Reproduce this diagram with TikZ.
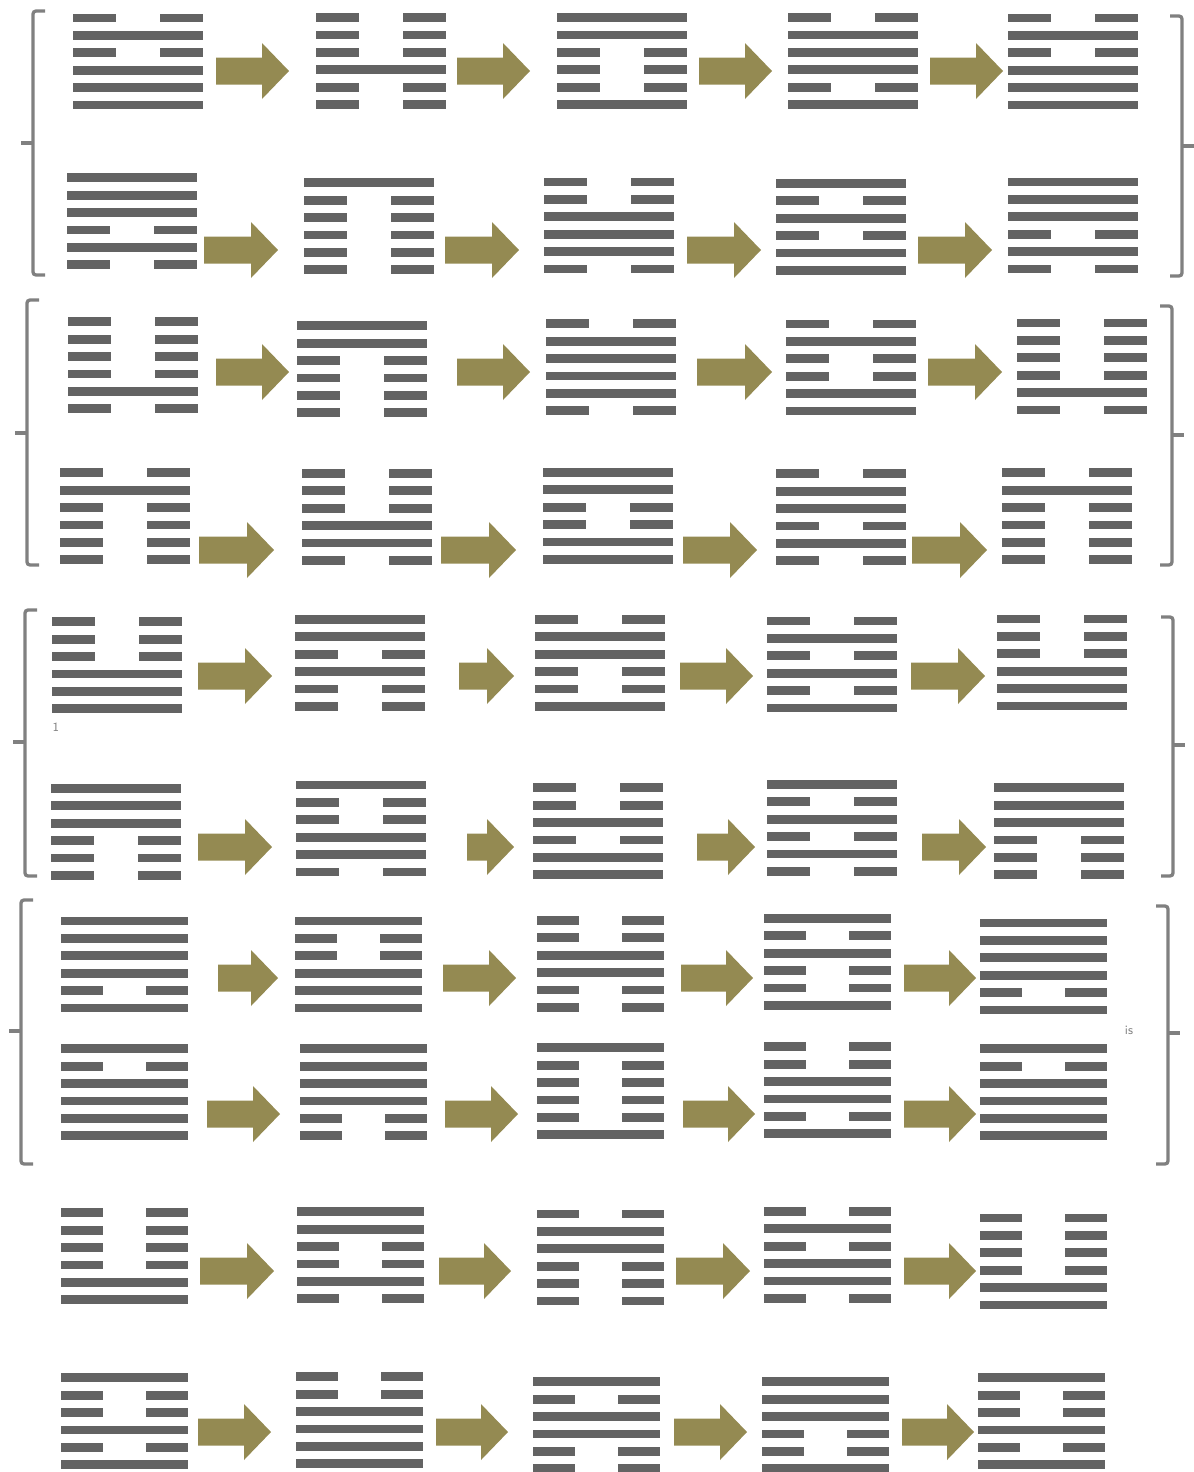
\documentclass[tikz,border=0pt]{standalone}
\usepackage{tikz}
\usetikzlibrary{positioning}
\definecolor{yaogray}{RGB}{99,99,99}
\definecolor{arrolive}{RGB}{148,138,82}
\definecolor{brakgray}{RGB}{128,128,128}
\def\hw{130}
% one line of a hexagram: x, y, 1 solid / 0 broken
\newcommand{\yao}[3]{%
  \ifnum#3=1\relax
    \fill[bar] (#1,#2-4.4) rectangle ++(\hw,8.8);
  \else
    \fill[bar] (#1,#2-4.4) rectangle ++(\hw/3,8.8);
    \fill[bar] (#1+\hw*2/3,#2-4.4) rectangle ++(\hw/3,8.8);
  \fi}
% hexagram: x, y of top line, six lines from top to bottom
\newcommand{\hexa}[8]{%
  \yao{#1}{#2}{#3}
  \yao{#1}{#2+17.4}{#4}
  \yao{#1}{#2+34.8}{#5}
  \yao{#1}{#2+52.2}{#6}
  \yao{#1}{#2+69.6}{#7}
  \yao{#1}{#2+87}{#8}}
\newcommand{\barrow}[3]{%
  \fill[arr] (#1,#3-13.5) -- (#2-27,#3-13.5) -- (#2-27,#3-28) -- (#2,#3)
    -- (#2-27,#3+28) -- (#2-27,#3+13.5) -- (#1,#3+13.5) -- cycle;}
\newcommand{\grpleft}[4]{%
  \draw[brak] (#1+12,#2) -- (#1,#2) -- (#1,#3) -- (#1+12,#3);
  \draw[brak] (#1,#4) -- (#1-12,#4);}
\newcommand{\grpright}[4]{%
  \draw[brak] (#1-12,#2) -- (#1,#2) -- (#1,#3) -- (#1-12,#3);
  \draw[brak] (#1,#4) -- (#1+12,#4);}
\tikzset{
  bar/.style={fill=yaogray},
  arr/.style={fill=arrolive},
  brak/.style={draw=brakgray, line width=3.3*0.25mm, rounded corners=3*0.25mm},
  scan/.style={font=\fontsize{9}{9}\selectfont\sffamily, text=brakgray, inner sep=0pt},
}

\begin{document}
\begin{tikzpicture}[x=0.25mm,y=-0.25mm]
\useasboundingbox (0,0) rectangle (1193,1472);
% group 1
\hexa{73}{18}010111   \barrow{216}{289}{71}
\hexa{316}{17.5}000100 \barrow{457}{530}{71}
\hexa{557}{17.5}110001 \barrow{699}{772}{71}
\hexa{788}{17.5}011101 \barrow{930}{1003}{71}
\hexa{1008}{18}010111
\hexa{67}{177.7}111010  \barrow{204}{278}{250}
\hexa{304}{182.7}100000 \barrow{445}{519}{250}
\hexa{544}{182}001110   \barrow{687}{761}{250}
\hexa{776}{183.3}101011 \barrow{918}{992}{250}
\hexa{1008}{182}111010
\grpleft{33}{11}{275}{143}
\grpright{1182}{16}{276}{146}
% group 2
\hexa{68}{321.7}000010  \barrow{216}{289}{372}
\hexa{297}{325.7}110000 \barrow{457}{530}{372}
\hexa{546}{323.7}011110 \barrow{697}{772}{372}
\hexa{786}{324}010011   \barrow{928}{1002}{372}
\hexa{1017}{323}000010
\hexa{60}{472.7}010000  \barrow{199}{274}{550}
\hexa{302}{473.3}000110 \barrow{441}{516}{550}
\hexa{543}{472.3}110011 \barrow{683}{757}{550}
\hexa{776}{473.7}011010 \barrow{912}{987}{550}
\hexa{1002}{472.7}010000
\grpleft{27}{300}{565}{433}
\grpright{1172}{306}{565}{435}
% group 3
\hexa{52}{621.7}000111  \barrow{198}{272}{676}
\hexa{295}{619.3}110100 \barrow{459}{514}{676}
\hexa{535}{619.3}011001 \barrow{680}{753}{676}
\hexa{767}{621}010101   \barrow{911}{985}{676}
\hexa{997}{619}000111
\hexa{51}{788.3}111000  \barrow{198}{272}{847}
\hexa{296}{785}100110   \barrow{467}{514}{847}
\hexa{533}{787.7}001011 \barrow{697}{755}{847}
\hexa{767}{784.3}101010 \barrow{922}{986}{847}
\hexa{994}{787.7}111000
\grpleft{25}{610}{876}{742}
\grpright{1173}{617}{876}{745}
\node[scan] (one) at (56,727) {1};
\begin{scope}
\def\hw{127}
% group 4
\hexa{61}{921}111101    \barrow{218}{278}{978}
\hexa{295}{921}100111   \barrow{443}{516}{978}
\hexa{537}{920.3}001100 \barrow{681}{753}{978}
\hexa{764}{918.3}101001 \barrow{904}{976}{978}
\hexa{980}{923}111101
\hexa{61}{1048.7}101111  \barrow{207}{280}{1114}
\hexa{300}{1048.7}111100 \barrow{445}{518}{1114}
\hexa{537}{1047.7}100001 \barrow{683}{755}{1114}
\hexa{764}{1046.7}001101 \barrow{904}{976}{1114}
\hexa{980}{1048.7}101111
\grpleft{21}{900}{1164}{1031}
\grpright{1168}{906}{1164}{1033}
\node[scan] (is) at (1129,1030) {is};
% last two rows
\hexa{61}{1212.7}000011 \barrow{200}{274}{1271}
\hexa{297}{1211.7}110010 \barrow{439}{511}{1271}
\hexa{537}{1214}011000  \barrow{676}{750}{1271}
\hexa{764}{1211.3}010110 \barrow{904}{976}{1271}
\hexa{980}{1218}000011
\hexa{61}{1377.7}100101  \barrow{198}{271}{1432}
\hexa{296}{1376.7}001111 \barrow{436}{508}{1432}
\hexa{533}{1381.7}101100 \barrow{674}{747}{1432}
\hexa{762}{1381.7}111001 \barrow{902}{974}{1432}
\hexa{978}{1377.7}100101
\end{scope}
\end{tikzpicture}
\end{document}
